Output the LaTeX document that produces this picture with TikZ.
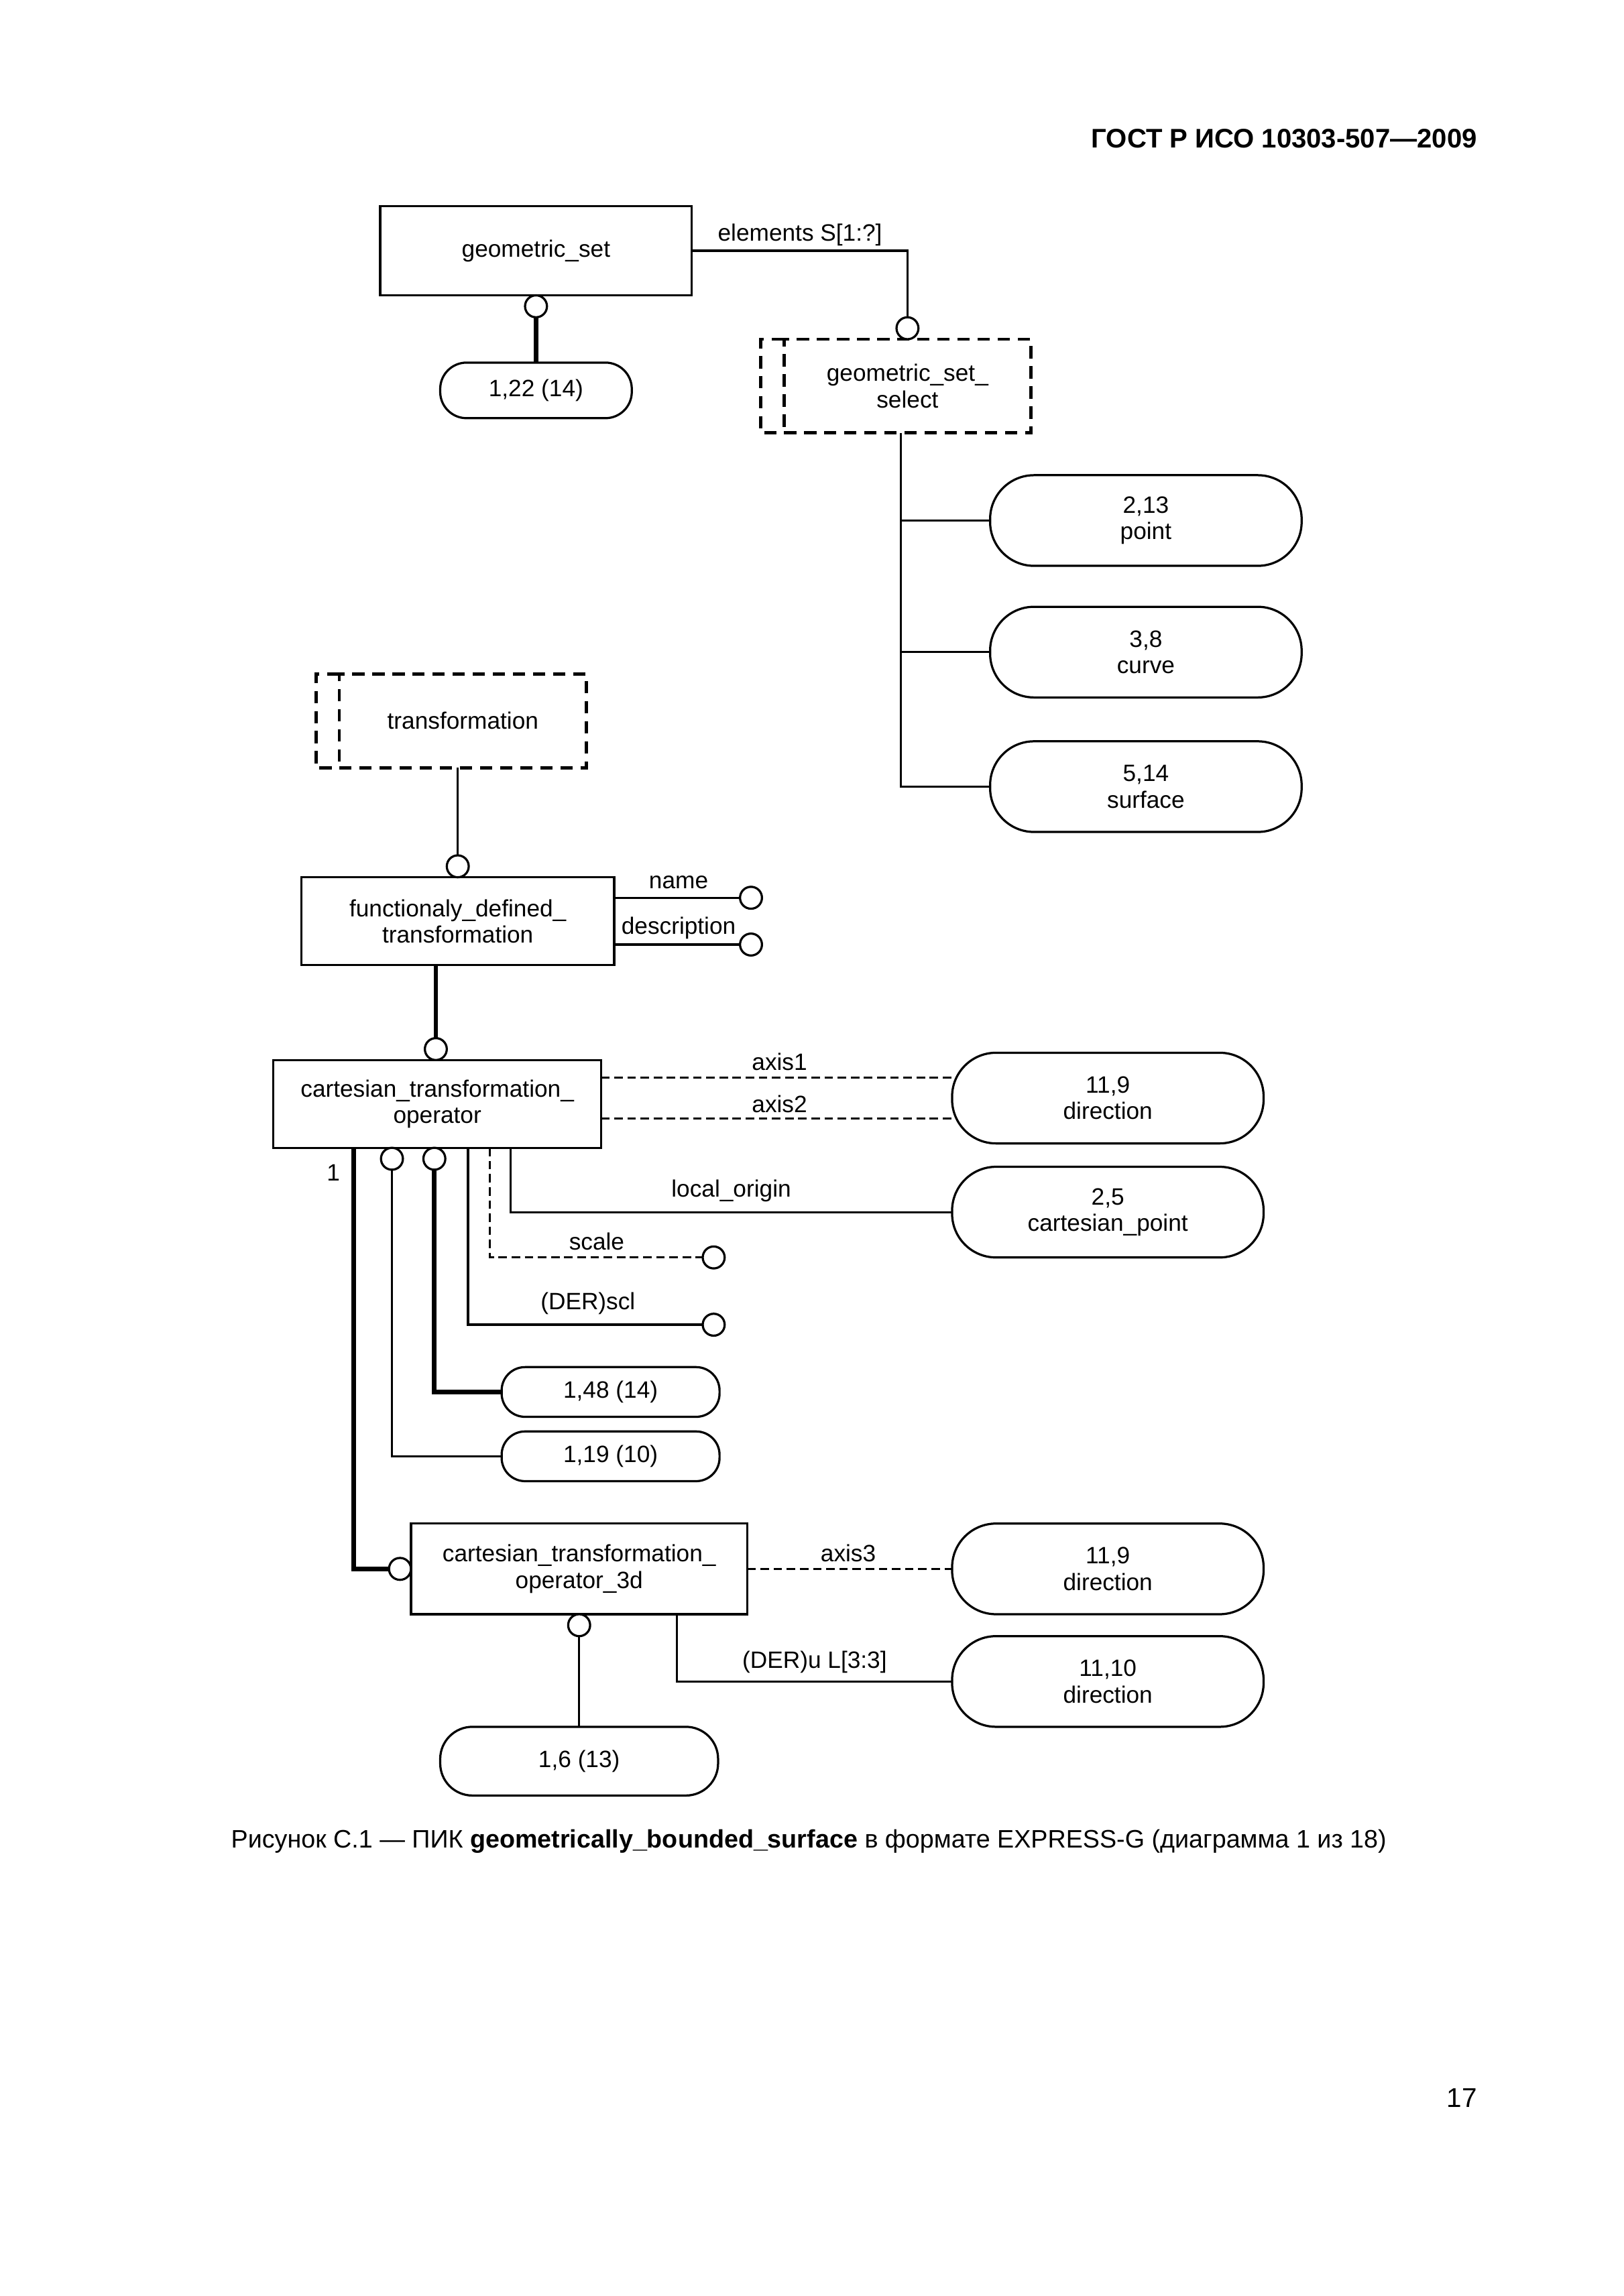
\documentclass[tikz,border=0pt]{standalone}
\usepackage{fontspec}
\setmainfont{Liberation Sans}
\usetikzlibrary{calc}
\newdimen\uu
\uu=0.189189mm
\begin{document}
\begin{tikzpicture}[x=0.189189mm, y=-0.189189mm,
  every node/.style={font=\fontsize{8.7}{9.7}\selectfont, inner sep=0pt, outer sep=0pt},
  ent/.style={draw, line width=0.8pt, align=center},
  refbox/.style={draw, line width=0.8pt, align=center, rounded corners=#1*\uu},
  selbox/.style={draw, line width=1.2pt, dash pattern=on 1.6mm off 1mm, align=center},
  selline/.style={line width=1.2pt, dash pattern=on 1.6mm off 1mm},
  attr/.style={circle, draw, fill=white, line width=0.8pt, minimum size=15*\uu},
  lbl/.style={text height=0.72em, text depth=0.2em},
  thn/.style={line width=0.8pt},
  thk/.style={line width=1.7pt},
  dline/.style={line width=0.8pt, dash pattern=on 1.1mm off 0.6mm}]
\useasboundingbox (0,0) rectangle (1110,1570.3);

% header and footer
\node[anchor=east, font=\fontsize{9.9}{12}\selectfont\bfseries] (hdr) at (1010,95) {ГОСТ Р ИСО 10303-507—2009};
\node[anchor=west, font=\fontsize{9.3}{11}\selectfont, text height=0.72em, text depth=0.2em] (cap) at (158,1259) {Рисунок C.1 — ПИК \textbf{geometrically\_bounded\_surface} в формате EXPRESS-G (диаграмма 1 из 18)};
\node[anchor=east, font=\fontsize{10}{12}\selectfont] (pg) at (1010,1435) {17};

% entities
\node[ent, minimum width=213*\uu, minimum height=61*\uu] (gset) at (366.5,171.5) {geometric\_set};
\node[ent, minimum width=214*\uu, minimum height=60*\uu] (fdt) at (313,630) {functionaly\_defined\_\\transformation};
\node[ent, minimum width=224*\uu, minimum height=60*\uu] (cto) at (299,755) {cartesian\_transformation\_\\operator};
\node[ent, minimum width=230*\uu, minimum height=62*\uu] (cto3) at (396,1073) {cartesian\_transformation\_\\operator\_3d};

% select types
\node[selbox, minimum width=169*\uu, minimum height=64*\uu] (gss) at (620.5,264) {geometric\_set\_\\select};
\draw[selline] (gss.north west) -- ++(-16,0) -- ++(0,64) -- (gss.south west);
\node[selbox, minimum width=169*\uu, minimum height=64*\uu] (trans) at (316.5,493) {transformation};
\draw[selline] (trans.north west) -- ++(-16,0) -- ++(0,64) -- (trans.south west);

% page references
\node[refbox=18, minimum width=131*\uu, minimum height=38*\uu] (r122) at (366.5,267) {1,22 (14)};
\node[refbox=30, minimum width=213*\uu, minimum height=62*\uu] (point) at (783.5,356) {2,13\\point};
\node[refbox=30, minimum width=213*\uu, minimum height=62*\uu] (curve) at (783.5,446) {3,8\\curve};
\node[refbox=30, minimum width=213*\uu, minimum height=62*\uu] (surface) at (783.5,538) {5,14\\surface};
\node[refbox=30, minimum width=213*\uu, minimum height=62*\uu] (dir1) at (757.5,751) {11,9\\direction};
\node[refbox=30, minimum width=213*\uu, minimum height=62*\uu] (cpoint) at (757.5,829) {2,5\\cartesian\_point};
\node[refbox=16, minimum width=149*\uu, minimum height=34*\uu] (r148) at (417.5,952) {1,48 (14)};
\node[refbox=16, minimum width=149*\uu, minimum height=34*\uu] (r119) at (417.5,996) {1,19 (10)};
\node[refbox=30, minimum width=213*\uu, minimum height=62*\uu] (dir3) at (757.5,1073) {11,9\\direction};
\node[refbox=30, minimum width=213*\uu, minimum height=62*\uu] (dir4) at (757.5,1150) {11,10\\direction};
\node[refbox=22, minimum width=190*\uu, minimum height=47*\uu] (r16) at (396,1204.5) {1,6 (13)};

% geometric_set relations
\node[attr, anchor=north] (c1) at (gset.south) {};
\node[attr, anchor=south] (c2) at (gss.north) {};
\draw[thn] (gset.east) -| (c2.north);
\node[lbl] (lelem) at (547,160) {elements S[1:?]};
\draw[thk] (c1.south) -- (r122.north);
\coordinate (gssb) at ($(gss.south)+(-4.5,0)$);
\draw[thn] (gssb) |- (surface.west);
\draw[thn] (gssb |- point.west) -- (point.west);
\draw[thn] (gssb |- curve.west) -- (curve.west);

% transformation / functionaly_defined_transformation
\node[attr, anchor=south] (c3) at (fdt.north) {};
\draw[thn] (c3.north) -- (c3.north |- trans.south);
\node[attr] (cname) at (513.5,614) {};
\node[attr] (cdesc) at (513.5,646) {};
\draw[thn] (fdt.east |- cname) -- (cname.west);
\draw[thn] (fdt.east |- cdesc) -- (cdesc.west);
\node[lbl] (lname) at (464,603) {name};
\node[lbl] (ldesc) at (464,634) {description};

% cartesian_transformation_operator
\node[attr, anchor=south] (c4) at ($(cto.north)+(-1,0)$) {};
\draw[thk] (c4.north) -- (c4.north |- fdt.south);
\coordinate (a1) at ($(cto.east)+(0,-18)$);
\coordinate (a2) at ($(cto.east)+(0,10)$);
\draw[dline] (a1) -- (a1 -| dir1.west);
\draw[dline] (a2) -- (a2 -| dir1.west);
\node[lbl] (laxis1) at (533,727) {axis1};
\node[lbl] (laxis2) at (533,756) {axis2};
\draw[thn] ($(cto.south)+(50,0)$) |- (cpoint.west);
\node[lbl] (llo) at (500,814) {local\_origin};
\node[attr] (cscale) at (488,860) {};
\node[attr] (cscl) at (488,906) {};
\draw[dline] ($(cto.south)+(36,0)$) |- (cscale.west);
\draw[thn] ($(cto.south)+(21,0)$) |- (cscl.west);
\node[lbl] (lscale) at (408,850) {scale};
\node[lbl] (lscl) at (402,891) {(DER)scl};
\node[attr, anchor=north] (c5) at ($(cto.south)+(-31,0)$) {};
\node[attr, anchor=north] (c6) at ($(cto.south)+(-2,0)$) {};
\draw[thk] (c6.south) |- (r148.west);
\draw[thn] (c5.south) |- (r119.west);
\node[attr, anchor=east] (c7) at (cto3.west) {};
\draw[thk] ($(cto.south)+(-57,0)$) |- (c7.west);
\node[lbl] (lone) at (228,803) {1};

% cartesian_transformation_operator_3d
\draw[dline] (cto3.east) -- (dir3.west);
\node[lbl] (laxis3) at (580,1063) {axis3};
\draw[thn] ($(cto3.south)+(67,0)$) |- (dir4.west);
\node[lbl] (lu) at (557,1136) {(DER)u L[3:3]};
\node[attr, anchor=north] (c8) at (cto3.south) {};
\draw[thn] (c8.south) -- (r16.north);
\end{tikzpicture}
\end{document}
